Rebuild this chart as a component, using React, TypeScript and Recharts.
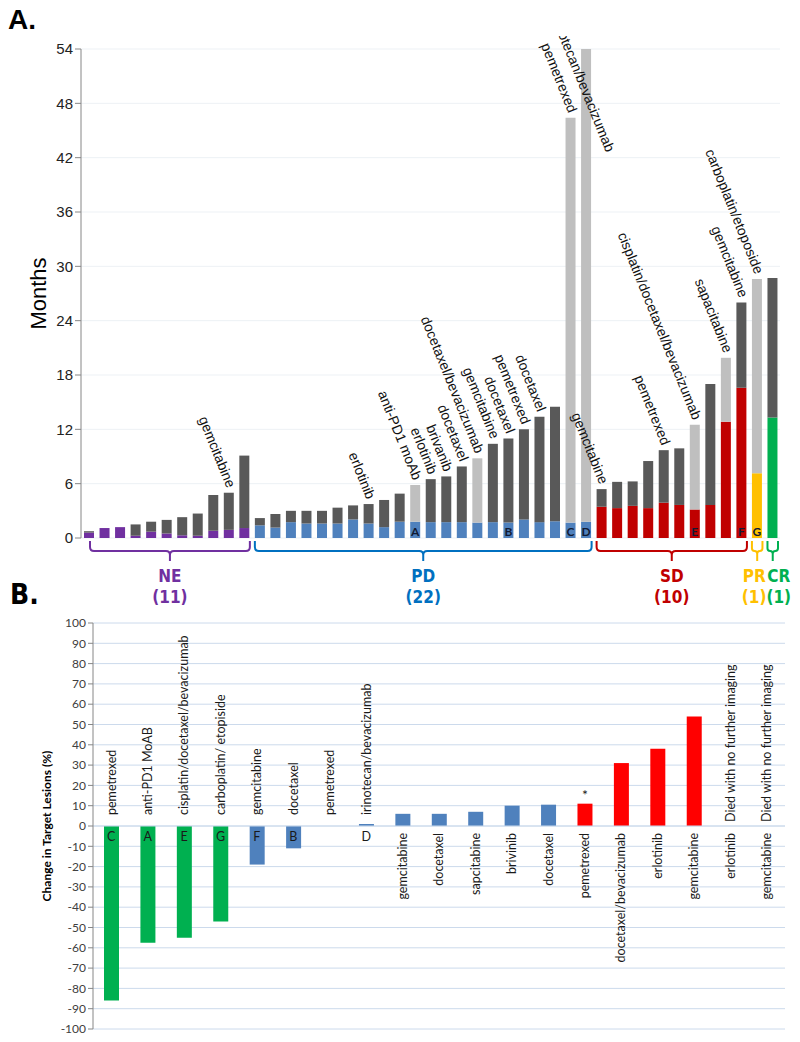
import React from "react";
import {
  BarChart,
  Bar,
  XAxis,
  YAxis,
  CartesianGrid,
  Cell,
  LabelList,
  ReferenceLine,
} from "recharts";

// ---------- Panel A: months on study, one bar per patient ----------
const patientIds = [
  1, 2, 3, 4, 5, 6, 7, 8, 9, 10, 11, 12, 13, 14, 15, 16, 17, 18, 19, 20, 21, 22,
  23, 24, 25, 26, 27, 28, 29, 30, 31, 32, 33, 34, 35, 36, 37, 38, 39, 40, 41, 42,
  43, 44, 45,
];
const responseGroups = ["NE", "PD", "SD", "PR", "CR"];
const groupSizes = [11, 22, 10, 1, 1];
// months until response assessment (coloured part of each bar)
const responseMonths = [
  0.6, 1.1, 1.2, 0.25, 0.7, 0.5, 0.3, 0.25, 0.8, 0.9, 1.1,
  1.4, 1.15, 1.75, 1.6, 1.6, 1.6, 2.05, 1.6, 1.2, 1.8, 1.8, 1.75, 1.75, 1.75,
  1.7, 1.75, 1.7, 2.05, 1.75, 1.85, 1.7, 1.8,
  3.45, 3.3, 3.55, 3.3, 3.9, 3.65, 3.15, 3.65, 12.85, 16.6,
  7.15,
  13.3,
];
// total months on study (top of each bar)
const totalMonths = [
  0.75, 1.1, 1.2, 1.5, 1.8, 2.0, 2.3, 2.7, 4.75, 5.0, 9.1,
  2.2, 2.65, 3.0, 3.0, 3.0, 3.35, 3.6, 3.75, 4.2, 4.9, 5.85, 6.5, 6.8, 7.9,
  8.8, 10.4, 11.0, 12.0, 13.4, 14.5, 46.4, 54,
  5.4, 6.2, 6.25, 8.5, 9.7, 9.9, 12.5, 17.0, 19.9, 26.0,
  28.6,
  28.7,
];
// patients still on study (light grey)
const ongoingPatients = [22, 26, 32, 33, 40, 42, 44];
const treatmentLabels: Record<number, string> = {
  10: "gemcitabine",
  19: "erlotinib",
  22: "anti-PD1 moAb",
  23: "erlotinib",
  24: "brivanib",
  25: "docetaxel",
  26: "docetaxel/bevacizumab",
  27: "gemcitabine",
  28: "docetaxel",
  29: "pemetrexed",
  30: "docetaxel",
  32: "pemetrexed",
  33: "irinotecan/bevacizumab",
  34: "gemcitabine",
  38: "pemetrexed",
  40: "cisplatin/docetaxel/bevacizumab",
  42: "sapacitabine",
  43: "gemcitabine",
  44: "carboplatin/etoposide",
};
const caseCodes: Record<number, string> = {
  22: "A",
  28: "B",
  32: "C",
  33: "D",
  40: "E",
  43: "F",
  44: "G",
};
const monthTicks = [0, 6, 12, 18, 24, 30, 36, 42, 48, 54];

// ---------- Panel B: change in target lesions ----------
const lesionTreatments = [
  "pemetrexed",
  "anti-PD1 MoAB",
  "cisplatin/docetaxel/bevacizumab",
  "carboplatin/ etopiside",
  "gemcitabine",
  "docetaxel",
  "pemetrexed",
  "irinotecan/bevacizumab",
  "gemcitabine",
  "docetaxel",
  "sapcitabine",
  "brivinib",
  "docetaxel",
  "pemetrexed",
  "docetaxel/bevacizumab",
  "erlotinib",
  "gemcitabine",
  "erlotinib",
  "gemcitabine",
];
const lesionChange = [
  -86, -57.5, -55, -47, -19, -11, null, 1, 6, 6, 7, 10, 10.5, 11, 31, 38, 54,
  null, null,
];
const lesionCodes = [
  "C", "A", "E", "G", "F", "B", "", "D", "", "", "", "", "", "", "", "", "", "", "",
];
const lesionClass = [
  "PR", "PR", "PR", "PR", "SD", "SD", "", "SD", "SD", "SD", "SD", "SD", "SD",
  "PD", "PD", "PD", "PD", "", "",
];
const diedWithoutImaging = [17, 18];
const newLesionFlag = [13];
const percentTicks = [
  -100, -90, -80, -70, -60, -50, -40, -30, -20, -10, 0, 10, 20, 30, 40, 50, 60,
  70, 80, 90, 100,
];

const SANS = "'Liberation Sans', Arial, sans-serif";
const NARROW = "'Liberation Sans Narrow', 'DejaVu Sans Condensed', sans-serif";
const HUMANIST = "Lato, 'Open Sans', sans-serif";

const groupFill: Record<string, string> = {
  NE: "#7030a0",
  PD: "#4f81bd",
  SD: "#c00000",
  PR: "#ffc000",
  CR: "#00b050",
};
const bracketColor: Record<string, string> = {
  NE: "#7030a0",
  PD: "#0070c0",
  SD: "#c00000",
  PR: "#ffc000",
  CR: "#00b050",
};
const lesionFill: Record<string, string> = {
  PR: "#00b050",
  SD: "#4f81bd",
  PD: "#ff0000",
};

// chart A layout
const A_W = 800;
const A_H = 620;
const A_TOP = 49;
const A_LEFT = 81;
const A_RIGHT = 20;
const A_XAXIS_H = 82;
const A_PLOT_BOTTOM = A_H - A_XAXIS_H;
const A_PLOT_W = A_W - A_LEFT - A_RIGHT;

const groupOfPatient: string[] = responseGroups.flatMap((g, k) =>
  Array(groupSizes[k]).fill(g)
);
const groupEnds = groupSizes.map((_, k) =>
  groupSizes.slice(0, k + 1).reduce((a, b) => a + b, 0) - 1
);
// small sideways shifts so "PR" and "CR" don't collide
const groupTextShift: Record<string, number> = { PR: -3, CR: 6 };

const panelAData = patientIds.map((id, i) => {
  const ongoing = ongoingPatients.includes(id);
  const rest = totalMonths[i] - responseMonths[i];
  return {
    id,
    group: groupOfPatient[i],
    response: responseMonths[i],
    progressed: ongoing ? 0 : rest,
    ongoing: ongoing ? rest : 0,
    drug: treatmentLabels[id] ?? "",
    code: caseCodes[id] ?? "",
  };
});
const rowById = (id: unknown) => panelAData.find((r) => r.id === Number(id));

const panelBData = lesionTreatments.map((drug, i) => ({
  key: i,
  drug,
  change: lesionChange[i],
  code: lesionCodes[i],
  cls: lesionClass[i],
}));

// label nudges (the D label sits beside its bar and runs off the top)
const labelNudges: Record<number, [number, number]> = { 33: [22, 108] };

const makeTreatmentLabel = (segment: "progressed" | "ongoing") => (props: any) => {
  const { x, y, width, value } = props;
  const row = rowById(value);
  if (!row || !row.drug) return null;
  const top = row.ongoing > 0 ? "ongoing" : "progressed";
  if (top !== segment) return null;
  const cx = Number(x) + Number(width) / 2;
  const [nx, ny] = labelNudges[row.id] ?? [0, 0];
  return (
    <g clipPath="url(#months-label-clip)">
      <text
        transform={`translate(${cx - 2 + nx},${Number(y) - 4 + ny}) rotate(68)`}
        textAnchor="end"
        fontSize={14}
        fontFamily={SANS}
        fill="#111"
      >
        {row.drug}
      </text>
    </g>
  );
};

const CaseCodeLabel = (props: any) => {
  const { x, y, width, height, value } = props;
  const row = rowById(value);
  if (!row || !row.code) return null;
  return (
    <text
      x={Number(x) + Number(width) / 2}
      y={Number(y) + Number(height) - 2}
      textAnchor="middle"
      fontSize={12}
      fontWeight="bold"
      fontFamily={HUMANIST}
      fill="#111a33"
    >
      {row.code}
    </text>
  );
};

const BracketTick = (props: any) => {
  const { x, index } = props;
  const k = responseGroups.indexOf(groupOfPatient[index]);
  if (k < 0 || index !== groupEnds[k]) return null;
  const bw = A_PLOT_W / patientIds.length;
  const firstX = x - (groupSizes[k] - 1) * bw;
  const left = firstX - bw / 2 + (k === 0 ? 9 : 3);
  const right = x + bw / 2 - 2;
  const mid = (left + right) / 2;
  const base = A_PLOT_BOTTOM;
  const yTop = base + 3;
  const yLine = base + 13;
  const yDown = base + 23;
  const r = Math.min(4, (right - left) / 4);
  const d =
    `M${left},${yTop} V${yLine - r} Q${left},${yLine} ${left + r},${yLine} ` +
    `H${mid - r} Q${mid},${yLine} ${mid},${yLine + r} V${yDown} ` +
    `M${mid},${yLine + r} Q${mid},${yLine} ${mid + r},${yLine} ` +
    `H${right - r} Q${right},${yLine} ${right},${yLine - r} V${yTop}`;
  const name = responseGroups[k];
  const color = bracketColor[name];
  const tx = mid + (groupTextShift[name] ?? 0);
  const textProps = {
    x: tx,
    textAnchor: "middle" as const,
    fontSize: 17,
    fontWeight: "bold",
    fontFamily: NARROW,
    fill: color,
  };
  return (
    <g>
      <path d={d} fill="none" stroke={color} strokeWidth={2} />
      <text {...textProps} y={base + 44}>
        {name}
      </text>
      <text {...textProps} y={base + 65}>
        ({groupSizes[k]})
      </text>
    </g>
  );
};

const LesionLabels = (props: any) => {
  const vb = props.viewBox;
  if (!vb) return null;
  const bw = vb.width / lesionTreatments.length;
  const zeroY = vb.y;
  const txt = {
    fontSize: 12.5,
    fontFamily: HUMANIST,
    fill: "#1a1a1a",
  };
  return (
    <g>
      {panelBData.map((row, i) => {
        const cx = vb.x + bw * (i + 0.5);
        const died = diedWithoutImaging.includes(i);
        const above = !died && (row.code !== "" || row.change == null);
        return (
          <g key={i}>
            {above ? (
              <text
                {...txt}
                transform={`translate(${cx},${zeroY - 11}) rotate(-90)`}
                textAnchor="start"
                dy="0.35em"
              >
                {row.drug}
              </text>
            ) : (
              <text
                {...txt}
                transform={`translate(${cx},${zeroY + 7}) rotate(-90)`}
                textAnchor="end"
                dy="0.35em"
              >
                {row.drug}
              </text>
            )}
            {died && (
              <text
                {...txt}
                transform={`translate(${cx},${zeroY - 4}) rotate(-90)`}
                textAnchor="start"
                dy="0.35em"
              >
                Died with no further imaging
              </text>
            )}
            {row.code !== "" && (
              <text {...txt} x={cx} y={zeroY + 11} dy="0.35em" textAnchor="middle">
                {row.code}
              </text>
            )}
          </g>
        );
      })}
    </g>
  );
};

const FlagLabel = (props: any) => {
  const { x, y, width, value } = props;
  if (!newLesionFlag.includes(Number(value))) return null;
  return (
    <text
      x={Number(x) + Number(width) / 2}
      y={Number(y) - 4}
      textAnchor="middle"
      fontSize={14}
      fontFamily={HUMANIST}
      fill="#1a1a1a"
    >
      *
    </text>
  );
};

const MonthsChart = () => (
  <BarChart
    width={A_W}
    height={A_H}
    data={panelAData}
    margin={{ top: A_TOP, right: A_RIGHT, bottom: 0, left: 0 }}
    barSize={10}
  >
    <defs>
      <clipPath id="months-label-clip">
        <rect x={0} y={36} width={A_W} height={A_H} />
      </clipPath>
    </defs>
    <CartesianGrid vertical={false} stroke="#edf1f5" />
    <XAxis
      dataKey="id"
      interval={0}
      axisLine={false}
      tickLine={false}
      height={A_XAXIS_H}
      tick={<BracketTick />}
    />
    <YAxis
      width={A_LEFT}
      domain={[0, 54]}
      ticks={monthTicks}
      interval={0}
      tickSize={6}
      tick={{ fontSize: 15, fill: "#222", fontFamily: SANS }}
      axisLine={{ stroke: "#868686" }}
      tickLine={{ stroke: "#868686" }}
      label={{
        value: "Months",
        angle: -90,
        position: "insideLeft",
        offset: 38,
        style: { textAnchor: "middle", fontSize: 22, fill: "#000", fontFamily: SANS },
      }}
    />
    <Bar dataKey="response" stackId="m" isAnimationActive={false}>
      {panelAData.map((row) => (
        <Cell key={row.id} fill={groupFill[row.group]} />
      ))}
      <LabelList dataKey="id" content={CaseCodeLabel} />
    </Bar>
    <Bar dataKey="progressed" stackId="m" fill="#595959" isAnimationActive={false}>
      <LabelList dataKey="id" content={makeTreatmentLabel("progressed")} />
    </Bar>
    <Bar dataKey="ongoing" stackId="m" fill="#bfbfbf" isAnimationActive={false}>
      <LabelList dataKey="id" content={makeTreatmentLabel("ongoing")} />
    </Bar>
  </BarChart>
);

const LesionChart = () => (
  <BarChart
    width={800}
    height={442}
    data={panelBData}
    margin={{ top: 23, right: 15, bottom: 13, left: 0 }}
    barSize={15}
  >
    <CartesianGrid vertical={false} stroke="#ccdaec" />
    <XAxis dataKey="key" hide />
    <YAxis
      width={93}
      domain={[-100, 100]}
      ticks={percentTicks}
      interval={0}
      tickSize={5}
      tick={{ fontSize: 12, fill: "#404040", fontFamily: HUMANIST }}
      axisLine={{ stroke: "#868686" }}
      tickLine={{ stroke: "#868686" }}
      label={{
        value: "Change in Target Lesions (%)",
        angle: -90,
        position: "insideLeft",
        offset: 47,
        style: {
          textAnchor: "middle",
          fontSize: 12,
          fontWeight: "bold",
          fill: "#000",
          fontFamily: HUMANIST,
        },
      }}
    />
    <Bar dataKey="change" isAnimationActive={false}>
      {panelBData.map((row) => (
        <Cell key={row.key} fill={lesionFill[row.cls] ?? "#4f81bd"} />
      ))}
      <LabelList dataKey="key" content={FlagLabel} />
    </Bar>
    <ReferenceLine y={0} stroke="#ccdaec" label={<LesionLabels />} />
  </BarChart>
);

export default function App() {
  return (
    <div
      style={{
        position: "absolute",
        left: 0,
        top: 0,
        width: 800,
        height: 1042,
        background: "#fff",
        fontFamily: SANS,
      }}
    >
      <div style={{ position: "absolute", left: 0, top: 0 }}>
        <MonthsChart />
      </div>
      <div style={{ position: "absolute", left: 0, top: 600 }}>
        <LesionChart />
      </div>
      <svg
        width={800}
        height={1042}
        style={{ position: "absolute", left: 0, top: 0, pointerEvents: "none" }}
      >
        <text x={8} y={29} fontSize={28} fontWeight="bold" fontFamily={SANS}>
          A.
        </text>
        <text x={10} y={604} fontSize={28} fontWeight="bold" fontFamily={NARROW}>
          B.
        </text>
      </svg>
    </div>
  );
}
